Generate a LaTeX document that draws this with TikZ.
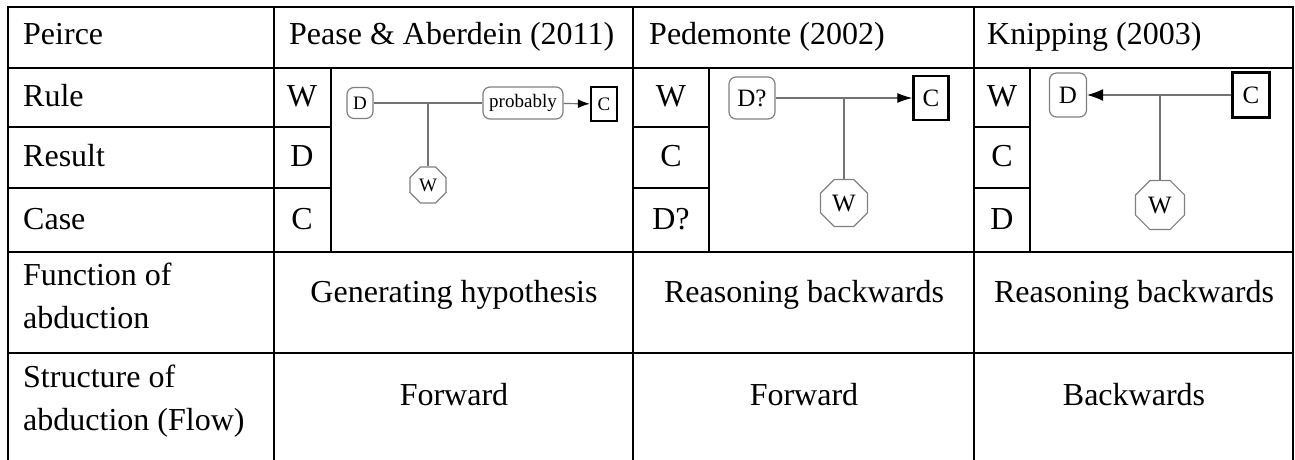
\documentclass[tikz,border=0pt]{standalone}
\usepackage{fontspec}
\setmainfont{Liberation Serif}
\usetikzlibrary{shapes.geometric,arrows.meta}
\begin{document}
\begin{tikzpicture}[x=1pt, y=-1pt,
		grid/.style={line width=2pt, line cap=rect},
		cell/.style={anchor=base west, inner sep=0pt, font=\fontsize{32}{43}\selectfont},
		mid/.style={anchor=base, inner sep=0pt, font=\fontsize{32}{43}\selectfont},
		two/.style={cell, align=left},
		dat/.style={draw=gray, line width=1.2pt, rounded corners=7pt, inner sep=0pt},
		claim/.style={draw, line width=2.4pt, inner sep=0pt},
		warrant/.style={draw=gray, line width=1.2pt, regular polygon, regular polygon sides=8, inner sep=0pt},
		link/.style={draw=black!55, line width=1.2pt},
		big/.style={font=\fontsize{25}{25}\selectfont},
		small/.style={font=\fontsize{19}{19}\selectfont}
		]
	\useasboundingbox (0,0) rectangle (1295,459);
	% table
	\draw[grid] (8,459) -- (8,7) -- (1293,7) -- (1293,459);
	\draw[grid] (274,7) -- (274,459) (633,7) -- (633,459) (974,7) -- (974,459);
	\draw[grid] (8,68) -- (1293,68) (8,252) -- (1293,252) (8,353) -- (1293,353);
	\draw[grid] (8,127) -- (331,127) (633,127) -- (709,127) (974,127) -- (1030,127);
	\draw[grid] (8,188) -- (331,188) (633,188) -- (709,188) (974,188) -- (1030,188);
	\draw[grid] (331,68) -- (331,252) (709,68) -- (709,252) (1030,68) -- (1030,252);
	% header
	\node [cell] (hPeirce) at (23,44) {Peirce};
	\node [cell] (hPease) at (289,44) {Pease \& Aberdein (2011)};
	\node [cell] (hPede) at (649,44) {Pedemonte (2002)};
	\node [cell] (hKnip) at (987,44) {Knipping (2003)};
	\node [cell] (rRule) at (23,106) {Rule};
	\node [cell] (rResult) at (23,166) {Result};
	\node [cell] (rCase) at (23,229) {Case};
	\node [two] (rFunc) at (23,328) {Function of\\abduction};
	\node [two] (rStruct) at (23,430) {Structure of\\abduction (Flow)};
	% letters
	\node [mid] (pW1) at (302,106) {W};
	\node [mid] (pD1) at (302,166) {D};
	\node [mid] (pC1) at (302,229) {C};
	\node [mid] (dW1) at (671,106) {W};
	\node [mid] (dC1) at (671,166) {C};
	\node [mid] (dD1) at (671,229) {D?};
	\node [mid] (kW1) at (1002,106) {W};
	\node [mid] (kC1) at (1002,166) {C};
	\node [mid] (kD1) at (1002,229) {D};
	% function and structure
	\node [mid] (pFunc) at (454,302) {Generating hypothesis};
	\node [mid] (dFunc) at (804,302) {Reasoning backwards};
	\node [mid] (kFunc) at (1134,302) {Reasoning backwards};
	\node [mid] (pFlow) at (454,405) {Forward};
	\node [mid] (dFlow) at (804,405) {Forward};
	\node [mid] (kFlow) at (1134,405) {Backwards};
	% Pease & Aberdein
	\node [dat, small, minimum width=26pt, minimum height=31pt] (pD) at (360,103) {D};
	\node [dat, small, minimum width=80pt, minimum height=32pt] (pP) at (523,103) {probably};
	\node [claim, small, minimum width=26pt, minimum height=34pt] (pC) at (604,104) {C};
	\node [warrant, small, minimum size=39pt] (pW) at (428,185) {W};
	\coordinate (pJ) at (428,103);
	\draw [link] (pD) -- (pP);
	\draw [link, -{Latex[length=12pt,width=9pt,color=black]}] (pP) -- (pC);
	\draw [link] (pJ) -- (pW);
	% Pedemonte
	\node [dat, big, minimum width=46pt, minimum height=42pt] (dD) at (752,98) {D?};
	\node [claim, big, minimum width=35pt, minimum height=44pt] (dC) at (931,98) {C};
	\node [warrant, big, minimum size=51pt] (dW) at (844,203) {W};
	\coordinate (dJ) at (844,98);
	\draw [link, -{Latex[length=15pt,width=10pt,color=black]}] (dD) -- (dC);
	\draw [link] (dJ) -- (dW);
	% Knipping
	\node [dat, big, minimum width=37pt, minimum height=44pt] (kD) at (1068,95) {D};
	\node [claim, big, minimum width=37pt, minimum height=45pt] (kC) at (1251,95) {C};
	\node [warrant, big, minimum size=53pt] (kW) at (1160,205) {W};
	\coordinate (kJ) at (1160,95);
	\draw [link, -{Latex[length=16pt,width=12pt,color=black]}] (kC) -- (kD);
	\draw [link] (kJ) -- (kW);
\end{tikzpicture}
\end{document}
